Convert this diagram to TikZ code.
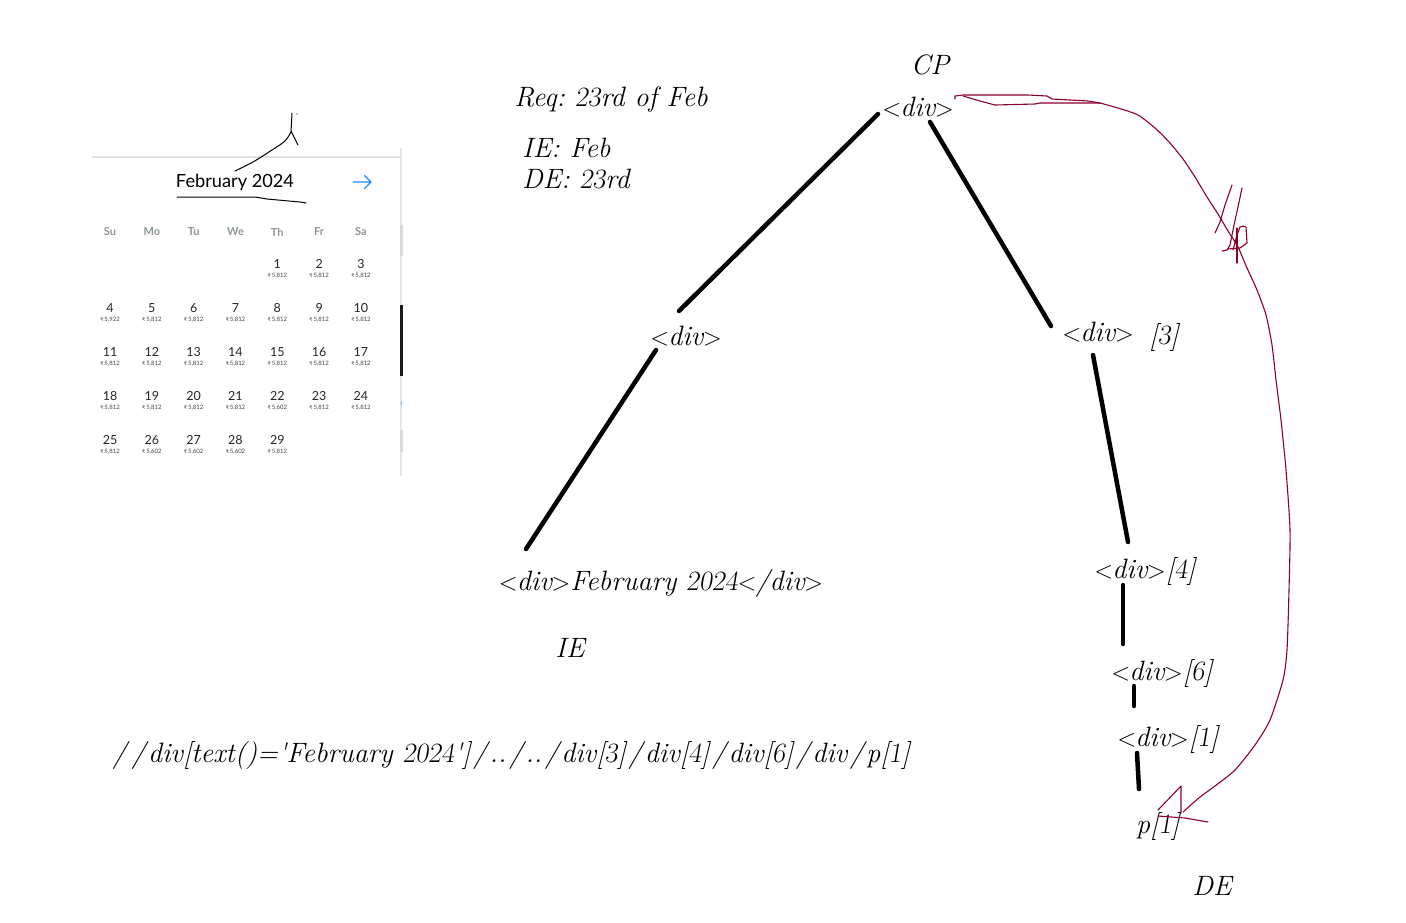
\documentclass[tikz,border=0pt]{standalone}
\usepackage{fontspec}
\newfontfamily\lato{Lato}
\newfontfamily\dejavu{DejaVu Sans}
\definecolor{ink}{RGB}{140,0,40}
\definecolor{hdr}{RGB}{140,150,150}
\definecolor{arr}{RGB}{30,144,255}
\newcommand\sdig[1]{{\slshape #1}}
\newcommand\sls{\kern2.5pt/\kern2.5pt}
\newcommand\sq{\textquotesingle}
\newcommand\lt{$<$\kern-1pt}
\newcommand\gt{\kern-0.5pt$>$}
\begin{document}
\frenchspacing
\begin{tikzpicture}[x=1pt,y=-1pt,
  lbl/.style={font=\fontsize{28}{32}\selectfont\itshape, inner sep=0pt, anchor=base},
  edge/.style={line width=4.5pt, line cap=round},
  redline/.style={draw=ink, line width=1.1pt, line join=round, line cap=round},
  pen/.style={draw=black, line width=1pt, line join=round, line cap=round},
  month/.style={font=\lato\fontsize{18.2}{20}\selectfont, inner sep=0pt},
  dayhdr/.style={font=\lato\bfseries\fontsize{11}{12}\selectfont, text=hdr, inner sep=0pt},
  daynum/.style={font=\lato\fontsize{12.5}{14}\selectfont, text=black!85, inner sep=0pt},
  price/.style={font=\lato\fontsize{6}{7}\selectfont, text=black!75, inner sep=0pt}]
\useasboundingbox (0,0) rectangle (1406,922);
\fill[white] (0,0) rectangle (1406,922);

% ---------- calendar screenshot ----------
\draw[black!12, line width=1.2pt] (92,157) -- (400,157);
\draw[black!10, line width=1.5pt] (401,148) -- (401,476);
\fill[black!15] (400,225) rectangle (403,256);
\fill[black!15] (400,430) rectangle (403,452);
\fill[black!90] (400,305) rectangle (403,376);
\node[font=\fontsize{6}{6}\selectfont, text=arr, inner sep=0pt] (icalbar) at (401.5,404) {i};
\node[month] (feb) at (235,182) {February 2024};
\coordinate (nx1) at (353,182); \coordinate (nx2) at (371,182);
\draw[arr, line width=1.3pt, line cap=round, line join=round] (nx1) -- (nx2) (364.5,175.5) -- (nx2) -- (364.5,188.5);
\foreach \d [count=\i from 0] in {Su,Mo,Tu,We,Th,Fr,Sa}
  \node[dayhdr] (h\i) at (110+41.83*\i,232) {\d};
% days: number/column/row/price
\foreach \n/\c/\r/\p in {1/4/0/5812,2/5/0/5812,3/6/0/5812,
  4/0/1/5922,5/1/1/5812,6/2/1/5812,7/3/1/5812,8/4/1/5812,9/5/1/5812,10/6/1/5812,
  11/0/2/5812,12/1/2/5812,13/2/2/5812,14/3/2/5812,15/4/2/5812,16/5/2/5812,17/6/2/5812,
  18/0/3/5812,19/1/3/5812,20/2/3/5812,21/3/3/5812,22/4/3/5602,23/5/3/5812,24/6/3/5812,
  25/0/4/5812,26/1/4/5602,27/2/4/5602,28/3/4/5602,29/4/4/5812}{
  \node[daynum] (d\n) at (110+41.83*\c,264+44*\r) {\n};
  \pgfmathsetmacro{\pa}{int(\p/1000)}
  \pgfmathsetmacro{\pb}{int(\p-1000*\pa)}
  \node[price] (p\n) at (110+41.83*\c,276+44*\r) {{\dejavu\fontsize{5}{6}\selectfont ₹}\,\pa,\pb};
}
% hand strokes on calendar
\draw[pen] plot[smooth, tension=0.5] coordinates {(235,171) (253,162) (272,150) (285,141) (291,132)} -- (292,113);
\draw[pen] (291,131) -- (298,145);
\fill (297,114) circle (0.6pt);
\draw[pen] (177,197) -- (255,197) -- (267,199) -- (300,202) -- (306,203);

% ---------- notes ----------
\node[lbl] (req) at (611,106) {Req: \sdig{23}rd of Feb};
\node[lbl, anchor=base west] (ief) at (522,157) {IE: Feb};
\node[lbl, anchor=base west] (def) at (522,188) {DE: \sdig{23}rd};

% ---------- tree ----------
\node[lbl] (cp) at (930,74) {CP};
\node[lbl] (root) at (918,116) {\lt div\gt};
\node[lbl] (left) at (686,345) {\lt div\gt};
\node[lbl] (leaf) at (661,590) {\lt div\gt February \sdig{2024}\lt/div\gt};
\node[lbl] (ie) at (570,657) {IE};
\node[lbl] (right) at (1098,341) {\lt div\gt};
\node[lbl] (idx3) at (1164,344) {[\sdig{3}]};
\node[lbl] (d4) at (1145,578) {\lt div\gt[\sdig{4}]};
\node[lbl] (d6) at (1162,680) {\lt div\gt[\sdig{6}]};
\node[lbl] (d1) at (1168,746) {\lt div\gt[\sdig{1}]};
\node[lbl] (pone) at (1158,833) {p[\sdig{1}]};
\node[lbl] (de) at (1212,895) {DE};
\node[lbl] (xpath) at (510,762) {\sls\sls div[text()=\sq February \sdig{2024}\sq]\sls..\sls..\sls div[\sdig{3}]\sls div[\sdig{4}]\sls div[\sdig{6}]\sls div\sls p[\sdig{1}]};

\coordinate (a1) at (878,114); \coordinate (b1) at (679,311);
\coordinate (a2) at (930,122); \coordinate (b2) at (1051,326);
\coordinate (a3) at (656,350); \coordinate (b3) at (526,549);
\coordinate (a4) at (1093,355); \coordinate (b4) at (1128,542);
\coordinate (a5) at (1123,585); \coordinate (b5) at (1123,644);
\coordinate (a6) at (1134,686); \coordinate (b6) at (1134,706);
\coordinate (a7) at (1137,753); \coordinate (b7) at (1139,789);
\foreach \k in {1,...,7} \draw[edge] (a\k) -- (b\k);

% ---------- red hand-drawn arrow ----------
\draw[redline] (955,99) -- (955,96) -- (963,95) -- (1028,95) -- (1047,96) -- (1052,99) -- (1070,100) -- (1088,101) -- (1100,103);
\draw[redline] (963,96) -- (980,101) -- (995,105) -- (1035,104) -- (1040,103) -- (1085,103) -- (1100,103);
\draw[redline] plot[smooth, tension=0.4] coordinates {(1100,103) (1118,108) (1138,115) (1155,128) (1170,143) (1183,159) (1195,177) (1207,197) (1218,214) (1228,231) (1238,247) (1247,268) (1257,290) (1266,315) (1272,345) (1276,380) (1281,420) (1286,470) (1290,530) (1289,590) (1287,650) (1283,680) (1270,720) (1255,745) (1235,770) (1215,786) (1200,797) (1183,812)};
\draw[redline] (1158,810) -- (1181,786) -- (1181,813);
\draw[redline] (1158,816) -- (1185,818) -- (1208,822);
% scribble
\draw[redline] (1232,185) -- (1225,205) -- (1220,222) -- (1215,233);
\draw[redline] (1242,188) -- (1238,207) -- (1234,225) -- (1230,245) -- (1227,250) -- (1222,251);
\draw[redline] (1233,250) -- (1237,235) -- (1240,227) -- (1243,226) -- (1246,227) -- (1247,243) -- (1240,248) -- (1228,249);
\draw[redline] (1237,228) -- (1237,263);
\end{tikzpicture}
\end{document}
